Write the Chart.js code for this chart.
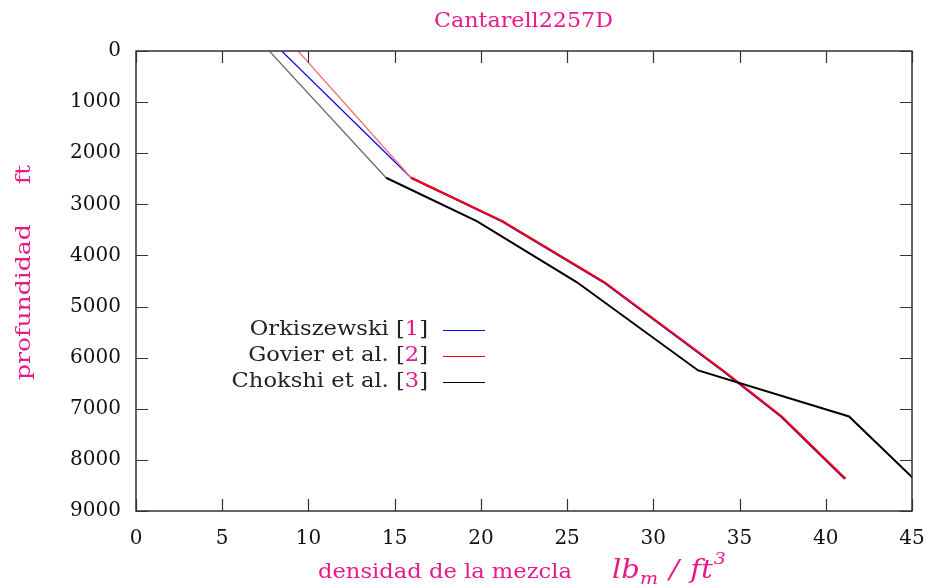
<!DOCTYPE html>
<html>
<head>
<meta charset="utf-8">
<script src="https://cdn.jsdelivr.net/npm/chart.js@4"></script>
<style>
  body { margin: 0; background: #fff; }
  #wrap { width: 929px; height: 588px; }
</style>
</head>
<body>
<div id="wrap"><canvas id="chart" width="929" height="588"></canvas></div>
<script>
// depth (ft) and mixture density (lbm/ft3)
const depths = [0, 2480, 3330, 4520, 6250, 7150, 8370];
const orkiszewski = [8.45, 15.95, 21.2, 27.1, 34.0, 37.4, 41.1];
const govier = [9.4, 15.95, 21.25, 27.15, 34.05, 37.45, 41.15];
const chokshi = [7.73, 14.5, 19.76, 25.55, 32.6, 41.35, 45.1];
const xTicks = [0, 5, 10, 15, 20, 25, 30, 35, 40, 45];
const yTicks = [0, 1000, 2000, 3000, 4000, 5000, 6000, 7000, 8000, 9000];

const PINK = '#e8198b';
const SERIF = '"DejaVu Serif", "Liberation Serif", serif';

function toPoints(xs) {
    return xs.map((v, i) => ({ x: v, y: depths[i] }));
}

function makeSet(label, ref, xs, color, lightColor, order) {
    return {
        label: label,
        ref: ref,
        order: order,
        data: toPoints(xs),
        borderColor: color,
        borderWidth: 2,
        pointRadius: 0,
        tension: 0,
        fill: false,
        segment: {
            borderColor: ctx => ctx.p0DataIndex === 0 ? lightColor : color,
            borderWidth: ctx => ctx.p0DataIndex === 0 ? 1.2 : 2
        }
    };
}

// squeeze/stretch a text to a given width (the reference font is wider)
function fitText(c, text, x, y, width) {
    const w = c.measureText(text).width;
    c.save();
    c.translate(x, y);
    c.scale(width / w, 1);
    c.fillText(text, 0, 0);
    c.restore();
}

const frame = {
    id: 'frame',
    afterDraw(chart) {
        const c = chart.ctx;
        const a = chart.chartArea;
        const xs = chart.scales.x, ys = chart.scales.y;
        c.save();
        // box
        c.strokeStyle = '#333';
        c.lineWidth = 1.5;
        c.strokeRect(a.left, a.top, a.right - a.left, a.bottom - a.top);
        // inward ticks
        c.lineWidth = 1.2;
        c.beginPath();
        xTicks.forEach(v => {
            const px = Math.round(xs.getPixelForValue(v)) + 0.5;
            c.moveTo(px, a.bottom); c.lineTo(px, a.bottom - 12);
            c.moveTo(px, a.top); c.lineTo(px, a.top + 12);
        });
        yTicks.forEach(v => {
            const py = Math.round(ys.getPixelForValue(v)) + 0.5;
            c.moveTo(a.left, py); c.lineTo(a.left + 12, py);
            c.moveTo(a.right, py); c.lineTo(a.right - 12, py);
        });
        c.stroke();

        // title
        c.fillStyle = PINK;
        c.textAlign = 'left';
        c.textBaseline = 'middle';
        c.font = '20px ' + SERIF;
        fitText(c, 'Cantarell2257D', 434, 22, 179);

        // y title
        c.save();
        c.translate(25, 380);
        c.rotate(-Math.PI / 2);
        fitText(c, 'profundidad     ft', 0, 0, 215);
        c.restore();

        // x title
        c.textBaseline = 'alphabetic';
        fitText(c, 'densidad de la mezcla', 318, 578, 254);
        c.save();
        c.translate(612, 578);
        c.scale(1.12, 1);
        c.font = 'italic 26px ' + SERIF;
        let x = 0;
        c.fillText('lb', x, 0); x += c.measureText('lb').width;
        c.font = 'italic 17px ' + SERIF;
        c.fillText('m', x, 6); x += c.measureText('m').width + 10;
        c.font = 'italic 26px ' + SERIF;
        c.fillText('/', x, 0); x += c.measureText('/').width + 10;
        c.fillText('ft', x, 0); x += c.measureText('ft').width + 1;
        c.font = 'italic 17px ' + SERIF;
        c.fillText('3', x, -14);
        c.restore();

        // legend
        const rows = [330, 356, 382];
        chart.data.datasets.forEach((ds, i) => {
            const y = rows[i];
            c.save();
            c.translate(428, y);
            c.scale(1.13, 1);
            c.font = '20px ' + SERIF;
            c.textBaseline = 'middle';
            c.textAlign = 'right';
            c.fillStyle = '#222';
            c.fillText(']', 0, 0);
            let w = c.measureText(']').width;
            c.fillStyle = PINK;
            c.fillText(ds.ref, -w, 0);
            w += c.measureText(ds.ref).width;
            c.fillStyle = '#222';
            c.fillText(ds.label + ' [', -w, 0);
            c.restore();
            c.strokeStyle = ds.borderColor;
            c.lineWidth = 1.2;
            c.beginPath();
            c.moveTo(443, y + 0.5); c.lineTo(485, y + 0.5);
            c.stroke();
        });
        c.restore();
    }
};

new Chart(document.getElementById('chart'), {
    type: 'line',
    data: {
        datasets: [
            makeSet('Orkiszewski', '1', orkiszewski, '#0000ff', '#0000ff', 3),
            makeSet('Govier et al.', '2', govier, '#ff0000', '#ff6a6a', 2),
            makeSet('Chokshi et al.', '3', chokshi, '#000000', '#666666', 1)
        ]
    },
    options: {
        responsive: false,
        animation: false,
        layout: { padding: { top: 51, right: 17, left: 0, bottom: 0 } },
        plugins: {
            legend: { display: false },
            tooltip: { enabled: false }
        },
        scales: {
            x: {
                type: 'linear',
                min: 0,
                max: 45,
                afterBuildTicks: s => { s.ticks = xTicks.map(v => ({ value: v })); },
                afterFit: s => { s.height = 77; s.paddingLeft = 0; s.paddingRight = 0; },
                grid: { display: false, drawTicks: false },
                border: { display: false },
                ticks: { color: '#111', font: { family: SERIF, size: 20 }, padding: 16, maxRotation: 0 }
            },
            y: {
                type: 'linear',
                reverse: true,
                min: 0,
                max: 9000,
                afterBuildTicks: s => { s.ticks = yTicks.map(v => ({ value: v })); },
                afterFit: s => { s.width = 136; s.paddingTop = 0; s.paddingBottom = 0; },
                grid: { display: false, drawTicks: false },
                border: { display: false },
                ticks: { color: '#111', font: { family: SERIF, size: 20 }, padding: 15, callback: v => String(v) }
            }
        }
    },
    plugins: [frame]
});
</script>
</body>
</html>
